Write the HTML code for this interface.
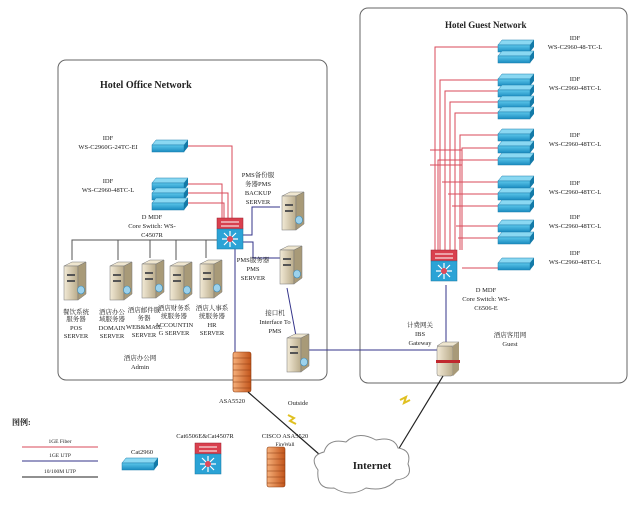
<!DOCTYPE html>
<html><head><meta charset="utf-8"><style>
body{margin:0;background:#fff;}
svg text{font-family:"Liberation Serif","Noto Serif CJK SC",serif;fill:#222;}
</style></head><body>
<svg width="640" height="508" viewBox="0 0 640 508" xmlns="http://www.w3.org/2000/svg">
<defs>
<linearGradient id="sw" x1="0" y1="0" x2="0" y2="1"><stop offset="0" stop-color="#5cc6ea"/><stop offset="1" stop-color="#1a8cc0"/></linearGradient>
<linearGradient id="srv" x1="0" y1="0" x2="1" y2="0"><stop offset="0" stop-color="#f2ead6"/><stop offset="1" stop-color="#b9ab8a"/></linearGradient>
<linearGradient id="fw" x1="0" y1="0" x2="1" y2="0"><stop offset="0" stop-color="#f6b07a"/><stop offset="1" stop-color="#c2541a"/></linearGradient>
<g id="s1"><path d="M4 0 H36 L32 5 H0 Z" fill="#8ad8f2" stroke="#1b7fae" stroke-width=".5"/><rect x="0" y="5" width="32" height="7" fill="url(#sw)" stroke="#1b7fae" stroke-width=".5"/><path d="M32 5 L36 0 V7 L32 12Z" fill="#137aa8"/></g>
<g id="srvr"><path d="M0 4 L8 0 H22 L14 4Z" fill="#efe6cf" stroke="#777" stroke-width=".5"/><rect x="0" y="4" width="14" height="34" fill="url(#srv)" stroke="#777" stroke-width=".5"/><path d="M14 4 L22 0 V32 L14 38Z" fill="#a89a78" stroke="#777" stroke-width=".5"/><rect x="3" y="12" width="8" height="2" fill="#555"/><rect x="3" y="18" width="8" height="2" fill="#555"/><ellipse cx="17" cy="28" rx="3.5" ry="4" fill="#9cd2ec" stroke="#3a88b6" stroke-width=".6"/></g>
<g id="core"><rect x="0" y="0" width="26" height="11" fill="#d9404e" stroke="#9a1f2c" stroke-width=".5"/><path d="M4 4 H22 M4 8 H22" stroke="#fff" stroke-width="1"/><rect x="0" y="11" width="26" height="20" fill="#2ba3d6" stroke="#17779f" stroke-width=".5"/><g stroke="#fff" stroke-width="1.2"><path d="M13 13 V29 M5 21 H21 M7 15 L19 27 M19 15 L7 27"/></g><circle cx="13" cy="21" r="3" fill="#e04a5a"/></g>
<g id="fwl"><rect x="0" y="0" width="18" height="40" rx="2" fill="url(#fw)" stroke="#8a3a10" stroke-width=".6"/><g stroke="#8a3a10" stroke-width=".5"><path d="M0 6 H18 M0 12 H18 M0 18 H18 M0 24 H18 M0 30 H18 M0 36 H18"/></g></g>
</defs>

<!-- boxes -->
<rect x="58" y="60" width="269" height="320" rx="8" fill="none" stroke="#666" stroke-width="1"/>
<rect x="360" y="8" width="267" height="375" rx="8" fill="none" stroke="#666" stroke-width="1"/>
<text x="100" y="88" font-size="10" font-weight="bold">Hotel Office Network</text>
<text x="445" y="28" font-size="9" font-weight="bold">Hotel Guest Network</text>

<!-- office red links -->
<g stroke="#d84a5a" stroke-width="1" fill="none">
<path d="M188 146 H232 V218"/>
<path d="M188 184 H222 V218"/>
<path d="M188 193 H228 V218"/>
<path d="M188 203 H224 V218"/>
</g>
<!-- office lan lines -->
<g stroke="#555" stroke-width="1" fill="none">
<path d="M217 240 H72 V260 M118 240 V260 M150 240 V258 M176 240 V260 M206 240 V258"/>
</g>
<g stroke="#33338a" stroke-width="1" fill="none">
<path d="M243 235 H252 V207 H280"/>
<path d="M243 242 H253 V258 H280"/>
<path d="M235 248 V355"/>
<path d="M287 288 L296 336"/>
<path d="M308 350 H440"/>
<path d="M446 285 V343"/>
</g>

<!-- office devices -->
<use href="#s1" x="152" y="140"/>
<use href="#s1" x="152" y="178"/><use href="#s1" x="152" y="188"/><use href="#s1" x="152" y="198"/>
<use href="#core" x="217" y="218"/>
<use href="#srvr" x="282" y="192"/>
<use href="#srvr" x="280" y="246"/>
<use href="#srvr" x="287" y="334"/>
<use href="#srvr" x="64" y="262"/>
<use href="#srvr" x="110" y="262"/>
<use href="#srvr" x="142" y="260"/>
<use href="#srvr" x="170" y="262"/>
<use href="#srvr" x="200" y="260"/>
<use href="#fwl" x="233" y="352"/>

<g font-size="6.5" text-anchor="middle">
<text x="108" y="140">IDF</text><text x="108" y="149">WS-C2960G-24TC-EI</text>
<text x="108" y="183">IDF</text><text x="108" y="192">WS-C2960-48TC-L</text>
<text x="152" y="219">D MDF</text><text x="152" y="228">Core Switch: WS-</text><text x="152" y="237">C4507R</text>
<text x="258" y="177">PMS备份服</text><text x="258" y="186">务器PMS</text><text x="258" y="195">BACKUP</text><text x="258" y="204">SERVER</text>
<text x="253" y="262">PMS服务器</text><text x="253" y="271">PMS</text><text x="253" y="280">SERVER</text>
<text x="275" y="315">接口机</text><text x="275" y="324">Interface To</text><text x="275" y="333">PMS</text>
<text x="76" y="314">餐饮系统</text><text x="76" y="321">服务器</text><text x="76" y="330">POS</text><text x="76" y="338">SERVER</text>
<text x="112" y="314">酒店办公</text><text x="112" y="321">域服务器</text><text x="112" y="330">DOMAIN</text><text x="112" y="338">SERVER</text>
<text x="144" y="312">酒店邮件服</text><text x="144" y="320">务器</text><text x="144" y="329">WEB&amp;MAIL</text><text x="144" y="337">SERVER</text>
<text x="174" y="310">酒店财务系</text><text x="174" y="318">统服务器</text><text x="174" y="327">ACCOUNTIN</text><text x="174" y="335">G SERVER</text>
<text x="212" y="310">酒店人事系</text><text x="212" y="318">统服务器</text><text x="212" y="327">HR</text><text x="212" y="335">SERVER</text>
<text x="140" y="360">酒店办公网</text><text x="140" y="369">Admin</text>
</g>

<!-- guest red links -->
<g stroke="#d84a5a" stroke-width="1" fill="none">
<path d="M498 47 H435 V250"/>
<path d="M498 80 H440 V250"/>
<path d="M498 91 H445 V250"/>
<path d="M498 102 H450 V250"/>
<path d="M498 113 H455 V250"/>
<path d="M498 135 H460 V250"/>
<path d="M498 148 H462 V250"/>
<path d="M498 160 H438 V250"/>
<path d="M498 182 H442"/>
<path d="M498 194 H448"/>
<path d="M498 206 H452"/>
<path d="M498 226 H456"/>
<path d="M498 238 H458"/>
<path d="M462 268 H498"/>
<path d="M430 150 H462 M430 165 H462"/>
</g>

<!-- guest switches -->
<use href="#s1" x="498" y="40"/><use href="#s1" x="498" y="51"/>
<use href="#s1" x="498" y="74"/><use href="#s1" x="498" y="85"/><use href="#s1" x="498" y="96"/><use href="#s1" x="498" y="107"/>
<use href="#s1" x="498" y="129"/><use href="#s1" x="498" y="141"/><use href="#s1" x="498" y="153"/>
<use href="#s1" x="498" y="176"/><use href="#s1" x="498" y="188"/><use href="#s1" x="498" y="200"/>
<use href="#s1" x="498" y="220"/><use href="#s1" x="498" y="232"/>
<use href="#s1" x="498" y="258"/>
<use href="#core" x="431" y="250"/>
<!-- IBS gateway -->
<g transform="translate(437,342)"><rect x="0" y="4" width="16" height="30" rx="2" fill="url(#srv)" stroke="#777" stroke-width=".5"/><path d="M0 4 L6 0 H22 L16 4Z" fill="#efe6cf" stroke="#777" stroke-width=".5"/><path d="M16 4 L22 0 V28 L16 34Z" fill="#a89a78"/><rect x="-1" y="18" width="24" height="3" fill="#c0282e"/></g>

<g font-size="6.5" text-anchor="middle">
<text x="575" y="40">IDF</text><text x="575" y="49">WS-C2960-48-TC-L</text>
<text x="575" y="81">IDF</text><text x="575" y="90">WS-C2960-48TC-L</text>
<text x="575" y="137">IDF</text><text x="575" y="146">WS-C2960-48TC-L</text>
<text x="575" y="185">IDF</text><text x="575" y="194">WS-C2960-48TC-L</text>
<text x="575" y="219">IDF</text><text x="575" y="228">WS-C2960-48TC-L</text>
<text x="575" y="255">IDF</text><text x="575" y="264">WS-C2960-48TC-L</text>
<text x="486" y="292">D MDF</text><text x="486" y="301">Core Switch: WS-</text><text x="486" y="310">C6506-E</text>
<text x="420" y="327">计费网关</text><text x="420" y="336">IBS</text><text x="420" y="345">Gateway</text>
<text x="510" y="337">酒店客用网</text><text x="510" y="346">Guest</text>
</g>

<!-- internet -->
<g stroke="#222" stroke-width="1.2" fill="none">
<path d="M248 392 L320 455"/>
<path d="M443 376 L395 455"/>
</g>
<path d="M288 415 l6 3 -4 3 6 3" stroke="#e0c020" stroke-width="2" fill="none"/>
<path d="M400 400 l6 -3 -2 6 6 -3" stroke="#e0c020" stroke-width="2" fill="none"/>
<path d="M318 470 q-10 -14 6 -18 q4 -14 22 -10 q12 -12 30 -2 q18 -4 22 8 q14 2 10 16 q6 14 -12 16 q-10 12 -30 8 q-16 10 -32 0 q-18 2 -16 -18z" fill="#fff" stroke="#888" stroke-width="1"/>
<text x="372" y="469" font-size="11" font-weight="bold" text-anchor="middle">Internet</text>
<g font-size="6.5" text-anchor="middle">
<text x="232" y="403">ASA5520</text>
<text x="298" y="405">Outside</text>
</g>

<!-- legend -->
<text x="12" y="425" font-size="8" font-weight="bold">图例:</text>
<g font-size="5.5" text-anchor="middle"><text x="60" y="443">1GE Fiber</text><text x="60" y="457">1GE UTP</text><text x="60" y="473">10/100M UTP</text></g>
<path d="M22 447 H98" stroke="#d84a5a" stroke-width="1"/>
<path d="M22 461 H98" stroke="#33338a" stroke-width="1"/>
<path d="M22 477 H98" stroke="#222" stroke-width="1"/>
<text x="142" y="454" font-size="6.5" text-anchor="middle">Cat2960</text>
<use href="#s1" x="122" y="458"/>
<text x="205" y="438" font-size="6.5" text-anchor="middle">Cat6506E&amp;Cat4507R</text>
<use href="#core" x="195" y="443"/>
<text x="285" y="438" font-size="6.5" text-anchor="middle">CISCO ASA5520</text>
<text x="285" y="446" font-size="5.5" text-anchor="middle">FireWall</text>
<use href="#fwl" x="267" y="447" transform="translate(0,0)"/>
</svg>
</body></html>
